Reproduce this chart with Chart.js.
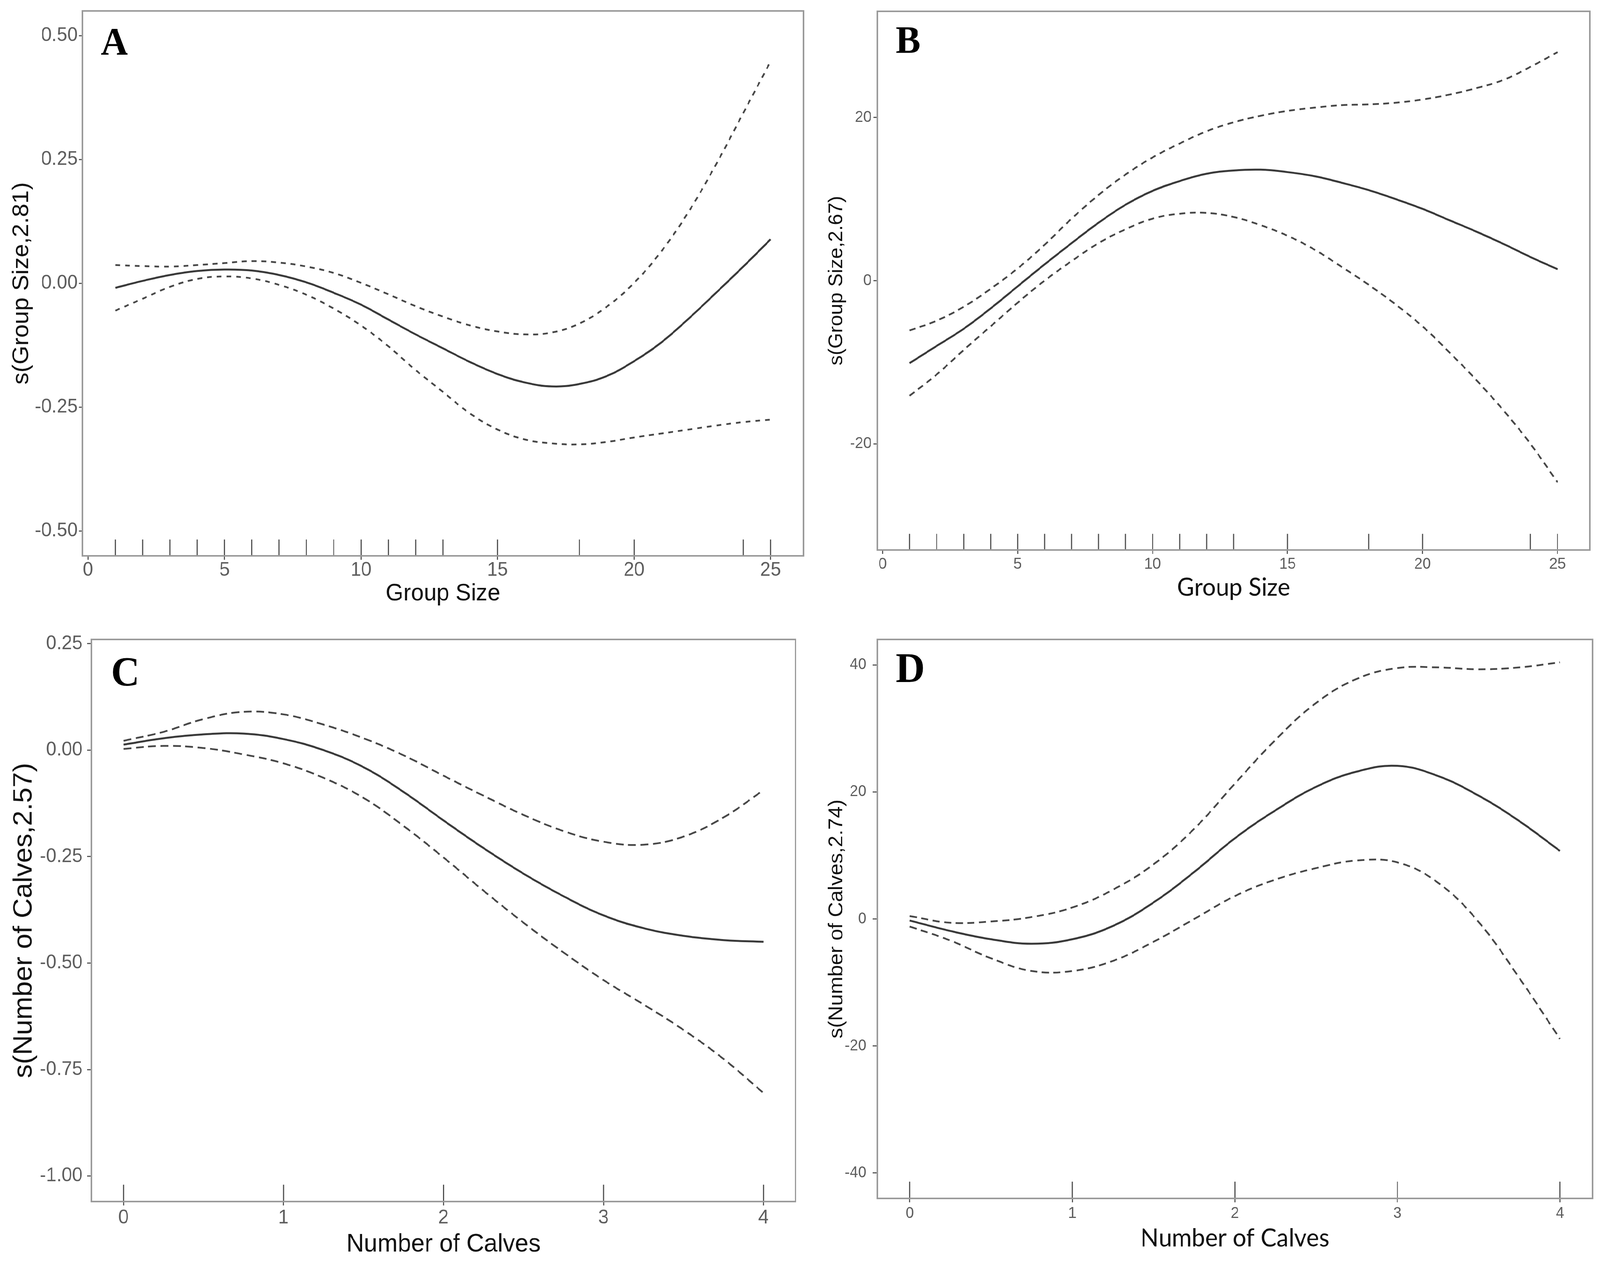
<!DOCTYPE html>
<html>
<head>
<meta charset="utf-8">
<title>GAM smooths: group size and number of calves</title>
<script src="https://cdn.jsdelivr.net/npm/chart.js@4.4.1/dist/chart.umd.min.js"></script>
<style>
	html, body { margin: 0; padding: 0; background: #fff; overflow: hidden; }
	#sheet { width: 4266px; height: 3241px; position: relative; transform-origin: 0 0; }
	canvas { position: absolute; }
</style>
</head>
<body>
<div id="sheet">
<canvas id="panelA"></canvas>
<canvas id="panelB"></canvas>
<canvas id="panelC"></canvas>
<canvas id="panelD"></canvas>
</div>
<script>
	'use strict';

	// Group size grid (panels A and B).
	var groupSize = [ 1, 2, 3, 4, 5, 6, 7, 8, 9, 10, 11, 12, 13, 14, 15, 16, 17, 18, 19, 20, 21, 22, 23, 24, 25 ];
	var groupSizeRug = [ 1, 2, 3, 4, 5, 6, 7, 8, 9, 10, 11, 12, 13, 15, 18, 20, 24, 25 ];
	var groupSizeTicks = [ 0, 5, 10, 15, 20, 25 ];

	// Number of calves grid (panels C and D).
	var calves = [ 0, 0.25, 0.5, 0.75, 1, 1.25, 1.5, 1.75, 2, 2.25, 2.5, 2.75, 3, 3.25, 3.5, 3.75, 4 ];
	var calvesRug = [ 0, 1, 2, 3, 4 ];
	var calvesTicks = [ 0, 1, 2, 3, 4 ];

	// Panel A: s(Group Size,2.81).
	var aFit   = [ -0.009, 0.005, 0.017, 0.025, 0.028, 0.026, 0.017, 0.002, -0.019, -0.043, -0.073, -0.103, -0.131, -0.159, -0.183, -0.200, -0.208, -0.203, -0.187, -0.157, -0.119, -0.071, -0.019, 0.034, 0.089 ];
	var aUpper = [ 0.037, 0.035, 0.034, 0.037, 0.041, 0.045, 0.042, 0.034, 0.021, 0.001, -0.022, -0.046, -0.067, -0.085, -0.097, -0.103, -0.099, -0.081, -0.047, 0.001, 0.065, 0.145, 0.240, 0.344, 0.448 ];
	var aLower = [ -0.055, -0.031, -0.007, 0.009, 0.014, 0.010, -0.003, -0.023, -0.051, -0.085, -0.127, -0.175, -0.219, -0.263, -0.295, -0.315, -0.323, -0.325, -0.320, -0.311, -0.303, -0.295, -0.287, -0.280, -0.275 ];
	var aYTicks = [ -0.5, -0.25, 0, 0.25, 0.5 ];

	// Panel B: s(Group Size,2.67).
	var bFit   = [ -10.1, -8.0, -5.9, -3.4, -0.7, 2.0, 4.6, 7.1, 9.3, 11.0, 12.2, 13.1, 13.5, 13.6, 13.3, 12.8, 12.0, 11.1, 10.0, 8.8, 7.4, 6.0, 4.5, 2.9, 1.4 ];
	var bUpper = [ -6.1, -4.9, -3.2, -1.0, 1.5, 4.4, 7.6, 10.5, 13.0, 15.1, 16.8, 18.3, 19.4, 20.2, 20.8, 21.2, 21.5, 21.6, 21.8, 22.2, 22.8, 23.6, 24.6, 26.2, 28.0 ];
	var bLower = [ -14.1, -11.5, -8.5, -5.6, -2.7, 0.0, 2.4, 4.6, 6.3, 7.6, 8.2, 8.3, 7.8, 6.8, 5.5, 3.8, 1.7, -0.5, -2.9, -5.6, -8.8, -12.2, -15.9, -20.0, -24.7 ];
	var bYTicks = [ -20, 0, 20 ];

	// Panel C: s(Number of Calves,2.57).
	var cFit   = [ 0.013, 0.028, 0.037, 0.039, 0.026, 0.000, -0.040, -0.098, -0.165, -0.230, -0.290, -0.343, -0.388, -0.418, -0.436, -0.446, -0.450 ];
	var cUpper = [ 0.022, 0.043, 0.073, 0.090, 0.084, 0.060, 0.028, -0.012, -0.060, -0.107, -0.152, -0.190, -0.215, -0.222, -0.203, -0.158, -0.094 ];
	var cLower = [ 0.003, 0.010, 0.005, -0.010, -0.031, -0.065, -0.112, -0.178, -0.252, -0.330, -0.405, -0.475, -0.540, -0.597, -0.657, -0.725, -0.805 ];
	var cYTicks = [ -1, -0.75, -0.5, -0.25, 0, 0.25 ];

	// Panel D: s(Number of Calves,2.74).
	var dFit   = [ -0.25, -1.9, -3.2, -3.9, -3.2, -1.1, 2.6, 7.4, 12.7, 17.1, 20.8, 23.2, 24.1, 22.5, 19.4, 15.4, 10.7 ];
	var dUpper = [ 0.45, -0.6, -0.4, 0.3, 1.8, 4.6, 8.6, 14.2, 21.3, 28.2, 34.0, 37.8, 39.5, 39.6, 39.3, 39.6, 40.4 ];
	var dLower = [ -1.2, -3.4, -6.2, -8.2, -8.2, -6.6, -3.6, 0.0, 3.6, 6.2, 8.0, 9.2, 8.9, 5.7, -0.5, -9.3, -18.9 ];
	var dYTicks = [ -40, -20, 0, 20, 40 ];

	var SANS = "'Liberation Sans', Arial, Helvetica, sans-serif";
	var HUMANIST = "Lato, 'Open Sans', sans-serif";
	var SERIF = "'Liberation Serif', 'Times New Roman', serif";

	// The layout is drawn on a 4266 x 3241 sheet, stretched onto the real window.
	var sheet = document.getElementById( 'sheet' );
	sheet.style.transform = 'scale(' + ( window.innerWidth / 4266 ) + ',' + ( window.innerHeight / 3241 ) + ')';

	/**
	 * Font size that makes a text span the wanted width.
	 */
	function fitSize( text, family, width ) {
		var ctx = document.createElement( 'canvas' ).getContext( '2d' );
		ctx.font = '100px ' + family;
		return 100 * width / ctx.measureText( text ).width;
	}

	function zip( xs, ys ) {
		return xs.map( function( x, i ) {
			return { x: x, y: ys[ i ] };
		} );
	}

	// Rug marks along the bottom of the panel.
	var rugPlugin = {
		id: 'rug',
		afterDatasetsDraw: function( chart, args, opts ) {
			var ctx = chart.ctx;
			var area = chart.chartArea;
			var len = area.height * 0.03;
			ctx.save();
			ctx.strokeStyle = opts.color;
			ctx.lineWidth = opts.width;
			opts.values.forEach( function( v ) {
				var px = chart.scales.x.getPixelForValue( v );
				ctx.beginPath();
				ctx.moveTo( px, area.bottom );
				ctx.lineTo( px, area.bottom - len );
				ctx.stroke();
			} );
			ctx.restore();
		}
	};

	// Panel frame and the bold panel letter.
	var framePlugin = {
		id: 'frame',
		afterDraw: function( chart, args, opts ) {
			var ctx = chart.ctx;
			var area = chart.chartArea;
			ctx.save();
			ctx.strokeStyle = '#9a9a9a';
			ctx.lineWidth = 4;
			ctx.strokeRect( area.left, area.top, area.right - area.left, area.bottom - area.top );
			ctx.fillStyle = '#000';
			ctx.font = 'bold ' + opts.size + 'px ' + SERIF;
			ctx.textBaseline = 'alphabetic';
			ctx.fillText( opts.letter, area.left + opts.dx, area.top + opts.dy );
			ctx.restore();
		}
	};

	function makePanel( p ) {
		var canvas = document.getElementById( p.id );
		canvas.width = p.box.width;
		canvas.height = p.box.height;
		canvas.style.left = p.box.left + 'px';
		canvas.style.top = p.box.top + 'px';
		canvas.style.width = p.box.width + 'px';
		canvas.style.height = p.box.height + 'px';

		var xSize = fitSize( p.xTitle, p.xTitleFamily, p.xTitleWidth );
		var ySize = fitSize( p.yTitle, SANS, p.yTitleWidth );
		var tickFont = { family: SANS, size: p.tickSize, lineHeight: 1 };

		var fmt = function( v ) {
			return p.decimals ? v.toFixed( p.decimals ) : String( v );
		};

		return new Chart( canvas, {
			type: 'line',
			data: {
				datasets: [
					{ data: zip( p.xs, p.upper ), borderColor: '#474747', borderWidth: 4.5, borderDash: p.dash },
					{ data: zip( p.xs, p.lower ), borderColor: '#474747', borderWidth: 4.5, borderDash: p.dash },
					{ data: zip( p.xs, p.fit ), borderColor: '#3a3a3a', borderWidth: 5 }
				]
			},
			options: {
				responsive: false,
				animation: false,
				devicePixelRatio: 1,
				events: [],
				elements: {
					point: { radius: 0 },
					line: { tension: 0.4, fill: false }
				},
				layout: {
					padding: { left: 0, bottom: 0, top: p.area.top, right: p.box.width - p.area.right }
				},
				plugins: {
					legend: { display: false },
					tooltip: { enabled: false },
					rug: { values: p.rug, color: '#505050', width: 3 },
					frame: { letter: p.letter, size: p.letterSize, dx: p.letterDx, dy: p.letterDy }
				},
				scales: {
					x: {
						type: 'linear',
						min: p.xMin,
						max: p.xMax,
						afterBuildTicks: function( scale ) {
							scale.ticks = p.xTicks.map( function( v ) { return { value: v }; } );
						},
						afterFit: function( scale ) {
							scale.height = p.box.height - p.area.bottom;
						},
						grid: { drawOnChartArea: false, drawTicks: true, tickLength: p.xTickLen, tickColor: '#5a5a5a', tickWidth: 3 },
						border: { display: false },
						ticks: { font: tickFont, color: '#5e5e5e', padding: p.xTickPad, maxRotation: 0, autoSkip: false, callback: function( v ) { return String( v ); } },
						title: {
							display: true,
							text: p.xTitle,
							color: '#111',
							font: { family: p.xTitleFamily, size: xSize, lineHeight: 1 },
							padding: { top: 0, bottom: p.xTitleFromBottom - xSize / 2 }
						}
					},
					y: {
						type: 'linear',
						min: p.yMin,
						max: p.yMax,
						afterBuildTicks: function( scale ) {
							scale.ticks = p.yTicks.map( function( v ) { return { value: v }; } );
						},
						afterFit: function( scale ) {
							scale.width = p.area.left;
						},
						grid: { drawOnChartArea: false, drawTicks: true, tickLength: p.yTickLen, tickColor: '#5a5a5a', tickWidth: 3 },
						border: { display: false },
						ticks: { font: tickFont, color: '#5e5e5e', padding: p.yTickPad, autoSkip: false, callback: function( v ) { return fmt( v ); } },
						title: {
							display: true,
							text: p.yTitle,
							color: '#111',
							font: { family: SANS, size: ySize, lineHeight: 1 },
							padding: { top: p.yTitleX - ySize / 2, bottom: 0 }
						}
					}
				}
			},
			plugins: [ rugPlugin, framePlugin ]
		} );
	}

	makePanel( {
		id: 'panelA', letter: 'A', letterSize: 100, letterDx: 49, letterDy: 112,
		box: { left: 0, top: 0, width: 2160, height: 1600 },
		area: { left: 220, top: 22, right: 2142, bottom: 1423 },
		xs: groupSize, fit: aFit, upper: aUpper, lower: aLower, rug: groupSizeRug,
		xMin: -0.2, xMax: 26.2, yMin: -0.55, yMax: 0.55,
		xTicks: groupSizeTicks, yTicks: aYTicks, decimals: 2, dash: [ 13, 13 ],
		tickSize: 50, xTickLen: 10, xTickPad: 2, yTickLen: 10, yTickPad: 3,
		xTitle: 'Group Size', xTitleFamily: SANS, xTitleWidth: 306, xTitleFromBottom: 80,
		yTitle: 's(Group Size,2.81)', yTitleWidth: 518, yTitleX: 58
	} );

	makePanel( {
		id: 'panelB', letter: 'B', letterSize: 100, letterDx: 49, letterDy: 106,
		box: { left: 2160, top: 0, width: 2106, height: 1600 },
		area: { left: 179, top: 29, right: 2079, bottom: 1408 },
		xs: groupSize, fit: bFit, upper: bUpper, lower: bLower, rug: groupSizeRug,
		xMin: -0.2, xMax: 26.2, yMin: -33, yMax: 33,
		xTicks: groupSizeTicks, yTicks: bYTicks, decimals: 0, dash: [ 16, 12 ],
		tickSize: 40, xTickLen: 10, xTickPad: 7, yTickLen: 10, yTickPad: 5,
		xTitle: 'Group Size', xTitleFamily: HUMANIST, xTitleWidth: 302, xTitleFromBottom: 95,
		yTitle: 's(Group Size,2.67)', yTitleWidth: 434, yTitleX: 71
	} );

	makePanel( {
		id: 'panelC', letter: 'C', letterSize: 106, letterDx: 52, letterDy: 118,
		box: { left: 0, top: 1600, width: 2160, height: 1641 },
		area: { left: 244, top: 31, right: 2121, bottom: 1476 },
		xs: calves, fit: cFit, upper: cUpper, lower: cLower, rug: calvesRug,
		xMin: -0.2, xMax: 4.2, yMin: -1.06, yMax: 0.26,
		xTicks: calvesTicks, yTicks: cYTicks, decimals: 2, dash: [ 21, 12 ],
		tickSize: 50, xTickLen: 10, xTickPad: 7, yTickLen: 12, yTickPad: 12,
		xTitle: 'Number of Calves', xTitleFamily: SANS, xTitleWidth: 518, xTitleFromBottom: 55,
		yTitle: 's(Number of Calves,2.57)', yTitleWidth: 807, yTitleX: 64
	} );

	makePanel( {
		id: 'panelD', letter: 'D', letterSize: 108, letterDx: 49, letterDy: 109,
		box: { left: 2160, top: 1600, width: 2106, height: 1641 },
		area: { left: 179, top: 29, right: 2086, bottom: 1468 },
		xs: calves, fit: dFit, upper: dUpper, lower: dLower, rug: calvesRug,
		xMin: -0.2, xMax: 4.2, yMin: -44, yMax: 44,
		xTicks: calvesTicks, yTicks: dYTicks, decimals: 0, dash: [ 19, 12 ],
		tickSize: 40, xTickLen: 10, xTickPad: 9, yTickLen: 12, yTickPad: 17,
		xTitle: 'Number of Calves', xTitleFamily: HUMANIST, xTitleWidth: 504, xTitleFromBottom: 71,
		yTitle: 's(Number of Calves,2.74)', yTitleWidth: 612, yTitleX: 71
	} );
</script>
</body>
</html>
